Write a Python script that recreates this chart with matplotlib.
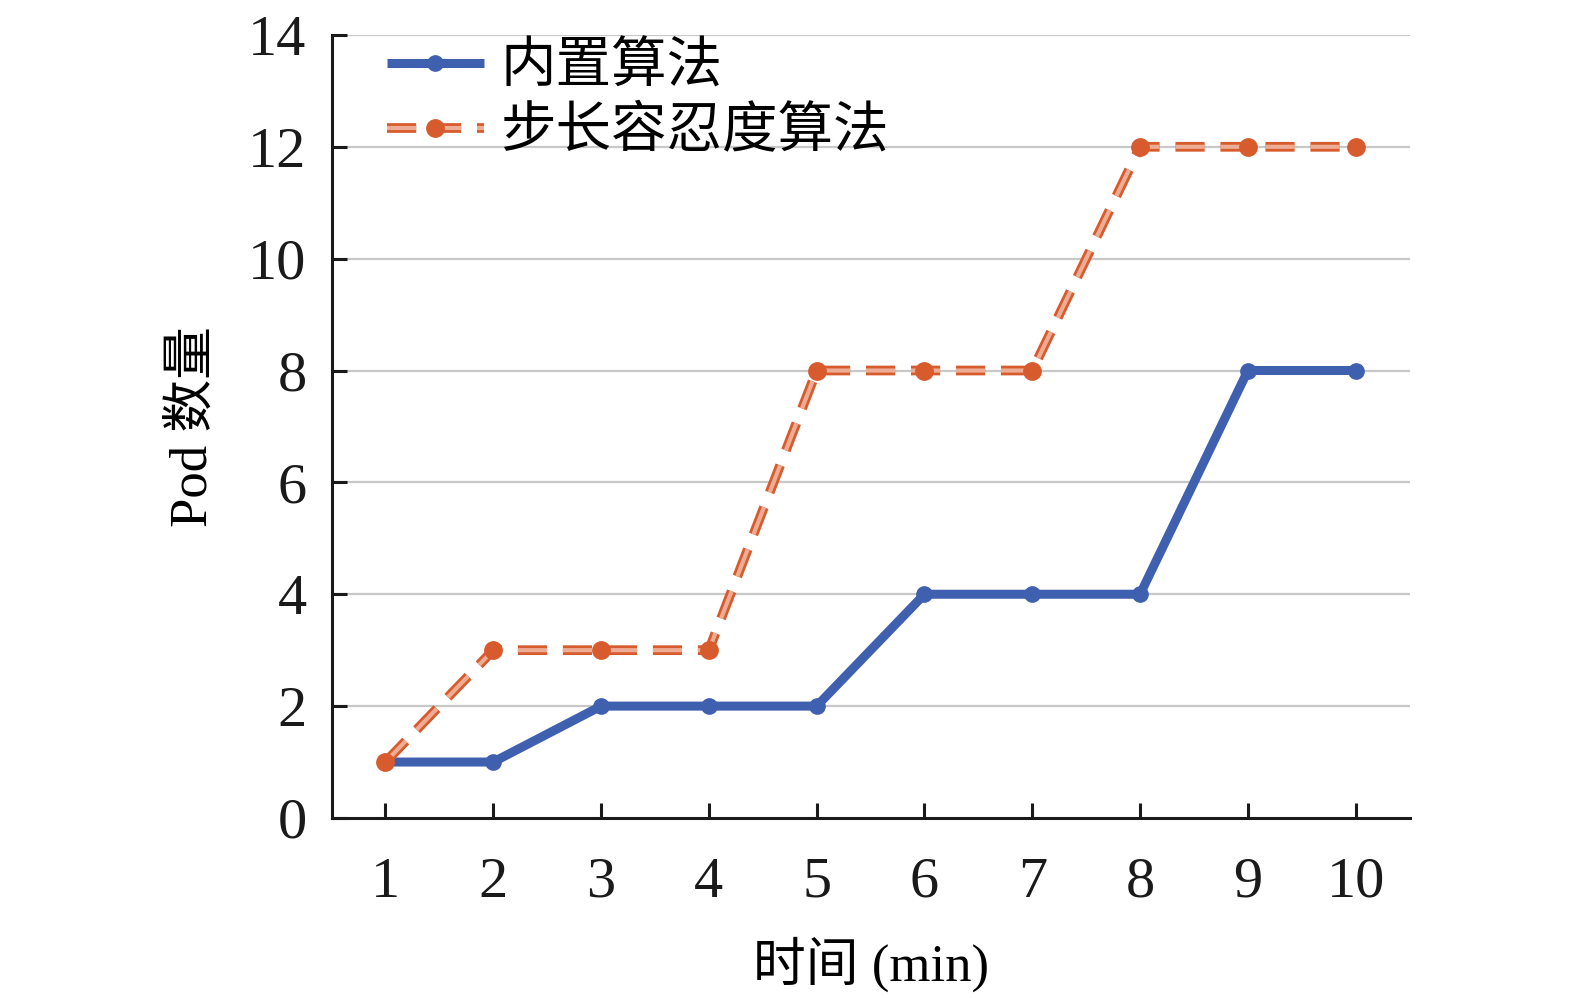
import matplotlib
matplotlib.use("Agg")
import matplotlib.pyplot as plt
import matplotlib.patheffects as pe

plt.rcParams["font.family"] = ["Liberation Serif", "Noto Sans CJK SC"]

# 数据
minutes = [1, 2, 3, 4, 5, 6, 7, 8, 9, 10]
builtin_pods = [1, 1, 2, 2, 2, 4, 4, 4, 8, 8]
step_tol_pods = [1, 3, 3, 3, 8, 8, 8, 12, 12, 12]
y_ticks = [0, 2, 4, 6, 8, 10, 12, 14]
series_names = ["内置算法", "步长容忍度算法"]

BLUE = "#3F5FAF"
ORANGE = "#D75B2D"
ORANGE_LIGHT = "#EDAD95"

fig = plt.figure(figsize=(15.75, 9.98), dpi=100)
ax = fig.add_axes([0.2105, 0.1804, 0.6845, 0.7846])

for y in y_ticks[1:]:
    ax.axhline(y, color="#C8C8C8", lw=1.6, zorder=0)

blue_line, = ax.plot(minutes, builtin_pods, color=BLUE, lw=6.5, marker="o",
                     ms=11, solid_capstyle="butt", zorder=3)

orange_line, = ax.plot(minutes, step_tol_pods, color=ORANGE_LIGHT, lw=3,
                       dashes=(7, 3.8), zorder=4,
                       path_effects=[pe.Stroke(linewidth=7, foreground=ORANGE),
                                     pe.Normal()])
orange_pts, = ax.plot(minutes, step_tol_pods, ls="none", marker="o", ms=12.5,
                      color=ORANGE, zorder=5)

ax.set_xlim(0.5, 10.5)
ax.set_ylim(0, 14)
ax.set_xticks(minutes)
ax.set_yticks(y_ticks)
ax.tick_params(axis="both", direction="in", length=11, width=2.2,
               labelsize=42, colors="#1a1a1a")
ax.tick_params(axis="x", pad=28)
ax.tick_params(axis="y", pad=18)

for side in ["top", "right"]:
    ax.spines[side].set_visible(False)
for side in ["left", "bottom"]:
    ax.spines[side].set_linewidth(2.2)
    ax.spines[side].set_color("#1a1a1a")

ax.set_xlabel("时间 (min)", fontsize=38, labelpad=20)
ax.set_ylabel("Pod 数量", fontsize=38, labelpad=22)

ax.legend([blue_line, (orange_line, orange_pts)], series_names,
          loc="upper left", bbox_to_anchor=(0.051, 0.99), frameon=False,
          borderaxespad=0, borderpad=0,
          fontsize=40, handlelength=1.75, handletextpad=0.3,
          labelspacing=0.22, numpoints=1)

fig.savefig("out.png", dpi=100)
